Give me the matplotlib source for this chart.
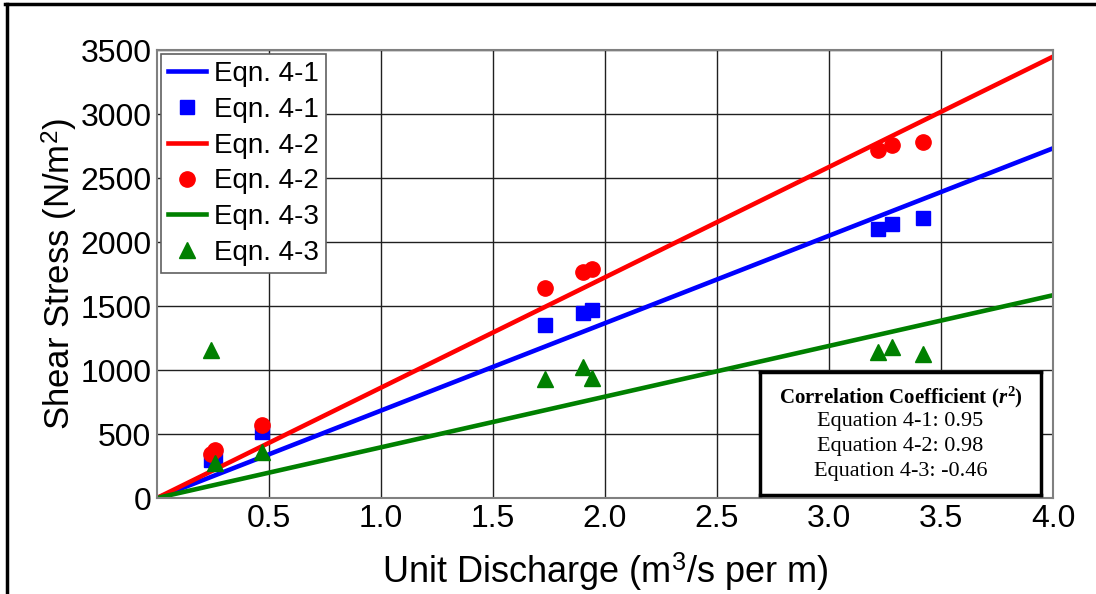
import numpy as np
import matplotlib
matplotlib.use('Agg')
from matplotlib import pyplot as plt
from matplotlib.lines import Line2D

# measured unit discharge (m^3/s per m) and shear stress (N/m^2)
q_obs = [0.24, 0.26, 0.47, 1.73, 1.90, 1.94, 3.22, 3.28, 3.42]
tau_41 = [300, 320, 515, 1352, 1445, 1469, 2102, 2141, 2188]
tau_42 = [340, 375, 570, 1640, 1766, 1789, 2719, 2758, 2781]
tau_43 = [1156, 273, 360, 930, 1023, 938, 1141, 1180, 1125]

# fitted line slopes (N/m^2 per m^2/s)
slope_41 = 683.0
slope_42 = 862.0
slope_43 = 396.0

r2_labels = ['Equation 4-1: 0.95', 'Equation 4-2: 0.98', 'Equation 4-3: -0.46']

plt.rcParams['font.family'] = ['Liberation Sans', 'DejaVu Sans']
plt.rcParams['mathtext.fontset'] = 'custom'
plt.rcParams['mathtext.rm'] = 'Liberation Sans'
plt.rcParams['mathtext.it'] = 'Liberation Serif:italic:bold'
plt.rcParams['mathtext.bf'] = 'Liberation Serif:bold'

fig = plt.figure(figsize=(10.96, 5.94), dpi=100)
ax = fig.add_axes([157 / 1096, 96 / 594, 896 / 1096, 448 / 594])

q_fit = np.linspace(0, 4.0, 50)
ax.plot(q_fit, slope_41 * q_fit, color='#0000ff', lw=3.3, label='Eqn. 4-1')
ax.plot(q_obs, tau_41, 's', color='#0000ff', ms=10, label='Eqn. 4-1')
ax.plot(q_fit, slope_42 * q_fit, color='#ff0000', lw=3.3, label='Eqn. 4-2')
ax.plot(q_obs, tau_42, 'o', color='#ff0000', ms=11, label='Eqn. 4-2')
ax.plot(q_fit, slope_43 * q_fit, color='#008000', lw=3.3, label='Eqn. 4-3')
ax.plot(q_obs, tau_43, '^', color='#008000', ms=11, label='Eqn. 4-3')

ax.set_xlim(0, 4.0)
ax.set_ylim(0, 3500)
ax.set_xticks(np.arange(0.5, 4.01, 0.5))
ax.set_xticklabels(['%.1f' % v for v in np.arange(0.5, 4.01, 0.5)])
ax.set_yticks(np.arange(0, 3501, 500))
ax.tick_params(length=0, labelsize=23, pad=4)
ax.grid(True, color='#202020', lw=1.0)
ax.set_axisbelow(True)
for s in ax.spines.values():
    s.set_color('#808080')
    s.set_linewidth(1.5)

ax.set_xlabel('Unit Discharge (m$^3$/s per m)', fontsize=26)
ax.set_ylabel('Shear Stress (N/m$^2$)', fontsize=25)
ax.xaxis.set_label_coords(0.5, -0.118)
ax.yaxis.set_label_coords(-0.086, 0.5)

leg = ax.legend(loc='upper left', fontsize=20, fancybox=False, framealpha=1,
                edgecolor='#606060', borderaxespad=0.15, handlelength=1.35,
                handletextpad=0.3, labelspacing=0.35, borderpad=0.25)
leg.get_frame().set_linewidth(1.2)

# correlation coefficient box
box_ax = fig.add_axes([760 / 1096, 99 / 594, 281 / 1096, 123 / 594])
box_ax.set_xticks([])
box_ax.set_yticks([])
for s in box_ax.spines.values():
    s.set_linewidth(2.5)
    s.set_color('black')
box_ax.text(0.5, 0.79, r'Correlation Coefficient ($\mathit{r}^{\mathbf{2}}$)',
            family='Liberation Serif', fontsize=15, fontweight='bold',
            ha='center', va='center', transform=box_ax.transAxes)
for i, lbl in enumerate(r2_labels):
    box_ax.text(0.5, 0.60 - i * 0.205, lbl, family='Liberation Serif',
                fontsize=16, ha='center', va='center',
                transform=box_ax.transAxes)

# outer frame on top and left
fig.add_artist(Line2D([5 / 1096, 1], [1 - 4 / 594, 1 - 4 / 594],
                      color='black', lw=2.5, transform=fig.transFigure))
fig.add_artist(Line2D([7 / 1096, 7 / 1096], [0, 1 - 4 / 594],
                      color='black', lw=2.5, transform=fig.transFigure))

fig.savefig('out.png', dpi=100)
